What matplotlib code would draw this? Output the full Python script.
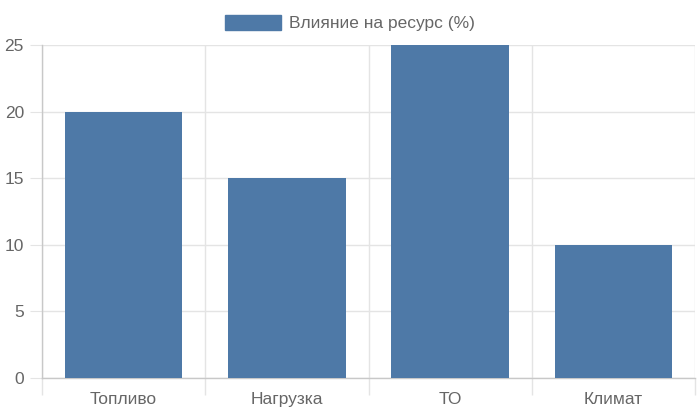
import matplotlib.pyplot as plt
import matplotlib.ticker as ticker
from matplotlib.patches import Patch

categories = ["Топливо", "Нагрузка", "ТО", "Климат"]
values = [20, 15, 25, 10]
series_label = "Влияние на ресурс (%)"
y_ticks = [0, 5, 10, 15, 20, 25]

plt.rcParams['font.family'] = ['Liberation Sans', 'DejaVu Sans']

bar_color = "#4e79a7"
grid_color = "#e4e4e4"
axis_color = "#c8c8c8"
text_color = "#666666"

fig = plt.figure(figsize=(7, 4.2), dpi=100)
ax = fig.add_axes([0.06, 0.1, 0.933, 0.793])

x = list(range(len(categories)))
ax.bar(x, values, width=0.72, color=bar_color, zorder=3)

ax.set_xlim(-0.5, len(categories) - 0.5)
ax.set_ylim(0, 25)
ax.set_yticks(y_ticks)
ax.set_xticks(x)
ax.set_xticklabels(categories)
ax.xaxis.set_minor_locator(ticker.FixedLocator([i - 0.5 for i in range(len(categories) + 1)]))

ax.grid(True, axis='y', which='major', color=grid_color, linewidth=1, zorder=0)
ax.grid(True, axis='x', which='minor', color=grid_color, linewidth=1, zorder=0)
ax.tick_params(axis='x', which='major', length=0, pad=10, labelsize=12.5, labelcolor=text_color)
ax.tick_params(axis='x', which='minor', length=12, color=grid_color, width=1)
ax.tick_params(axis='y', length=9, color=grid_color, pad=4, labelsize=12.5, labelcolor=text_color)

for side in ['top', 'right']:
    ax.spines[side].set_visible(False)
for side in ['left', 'bottom']:
    ax.spines[side].set_color(axis_color)
    ax.spines[side].set_linewidth(1)

handle = Patch(facecolor=bar_color, edgecolor=bar_color)
fig.legend([handle], [series_label], loc='center', bbox_to_anchor=(0.5, 0.945),
           frameon=False, fontsize=12.5, labelcolor=text_color,
           handlelength=3.2, handleheight=0.95, handletextpad=0.5)

fig.savefig("out.png", dpi=100)
